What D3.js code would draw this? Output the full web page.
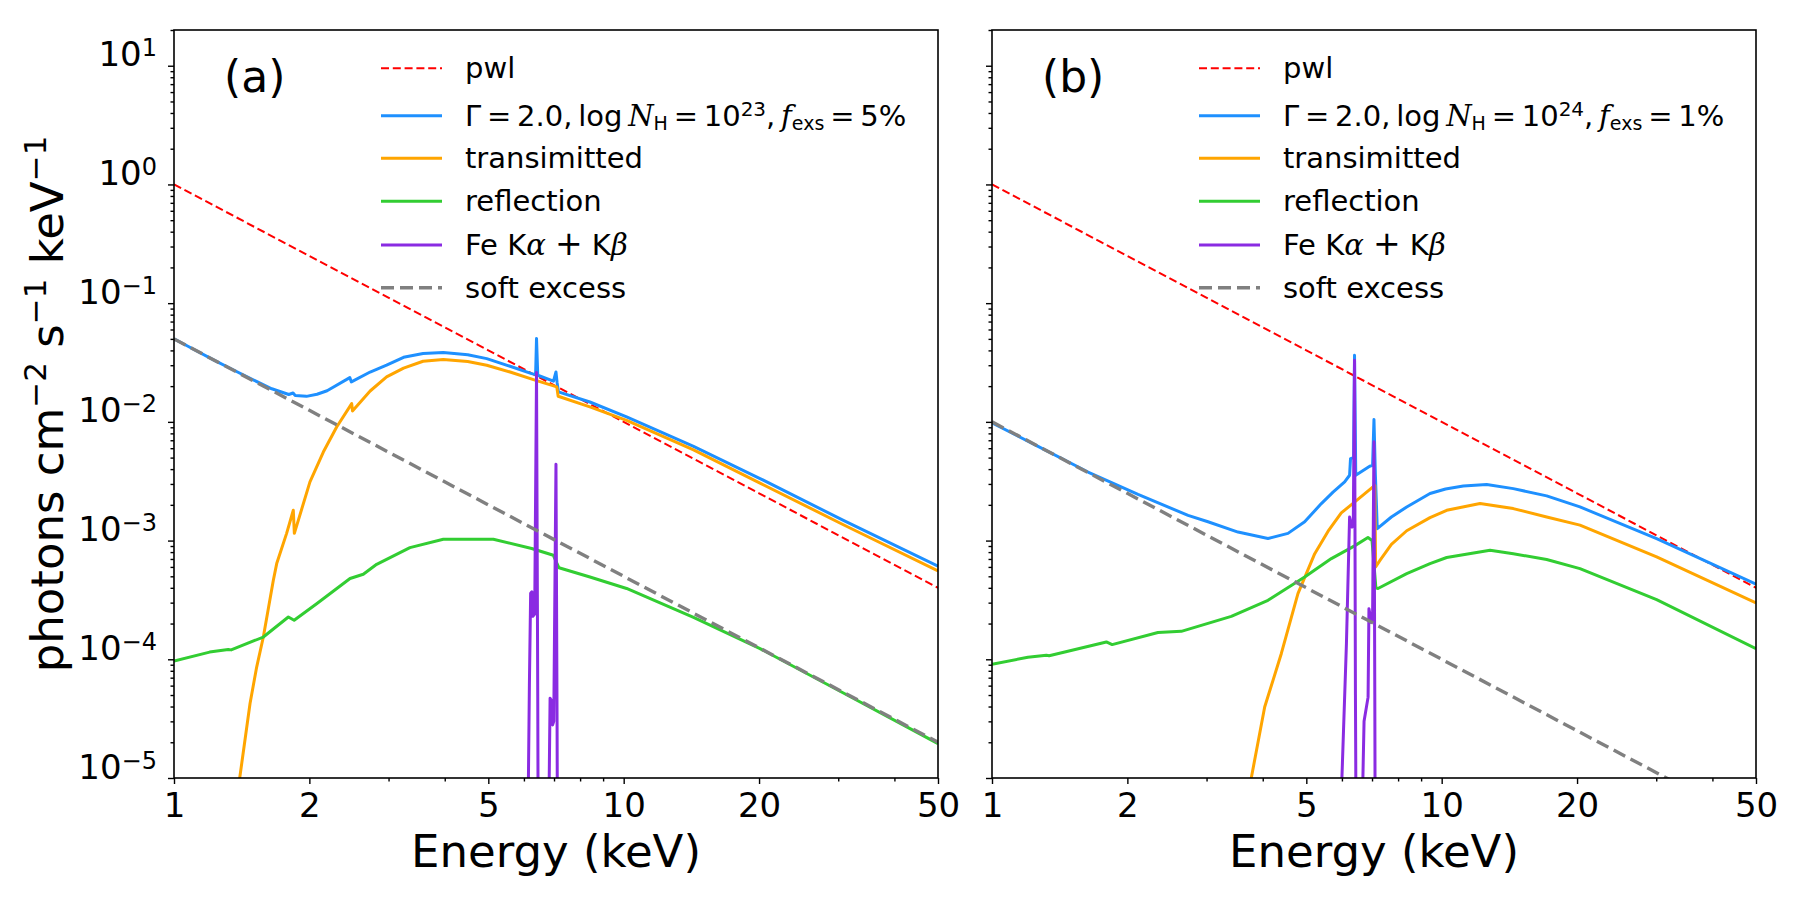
<!DOCTYPE html>
<html>
<head>
<meta charset="utf-8">
<script src="https://cdn.jsdelivr.net/npm/d3@7"></script>
<style>
  html, body { margin: 0; padding: 0; background: #fff; }
  svg { display: block; font-family: "DejaVu Sans", sans-serif; }
  text { white-space: pre; }
</style>
</head>
<body>
<svg id="chart" width="1800" height="900"></svg>
<script>
// ---- data (energy keV, photons cm^-2 s^-1 keV^-1) ----
const energyMajor = [1, 2, 5, 10, 20, 50];
const energyMinor = [3, 4, 6, 7, 8, 9, 30, 40];
const fluxMajor = [1e-5, 1e-4, 1e-3, 1e-2, 1e-1, 1, 10];
const fluxExpLabels = ['\u22125', '\u22124', '\u22123', '\u22122', '\u22121', '0', '1'];

// panel (a)
const pwlA = [[1, 1], [2, 0.25], [5, 0.04], [10, 0.01], [20, 0.0025], [50, 0.0004]];
const totalA = [
  [1.00, 0.0500], [1.10, 0.0413], [1.23, 0.0330], [1.36, 0.0272], [1.50, 0.0226], [1.65, 0.0190],
  [1.80, 0.0170], [1.84, 0.0175], [1.86, 0.0167], [1.97, 0.0164], [2.08, 0.0171], [2.19, 0.0183],
  [2.46, 0.0236], [2.48, 0.0217], [2.73, 0.0263], [2.97, 0.0300], [3.24, 0.0350], [3.58, 0.0376],
  [3.97, 0.0384], [4.50, 0.0368], [4.96, 0.0341], [5.59, 0.0294], [6.24, 0.0255], [6.37, 0.0250],
  [6.40, 0.0504], [6.44, 0.0247], [6.98, 0.0220], [7.07, 0.0263], [7.11, 0.0215], [7.16, 0.0179],
  [8.41, 0.0147], [10.15, 0.0110], [14.3, 0.00622], [20.1, 0.00333], [30.8, 0.00148], [50, 0.000610]
];
const transA = [
  [1.38, 0.0000065], [1.40, 0.0000100], [1.476, 0.0000424], [1.527, 0.000086], [1.58, 0.000154],
  [1.663, 0.000463], [1.692, 0.00064], [1.78, 0.00115], [1.842, 0.0018], [1.852, 0.00115],
  [2.006, 0.00312], [2.148, 0.00557], [2.30, 0.00906], [2.484, 0.01426], [2.494, 0.01236],
  [2.73, 0.0182], [2.97, 0.0239], [3.24, 0.0284], [3.58, 0.0324], [3.97, 0.0335], [4.50, 0.0322],
  [4.96, 0.0300], [5.59, 0.0263], [6.30, 0.0227], [7.10, 0.0197], [7.15, 0.01644], [8.41, 0.01337],
  [10.15, 0.0103], [14.3, 0.0058], [20.1, 0.00305], [30.8, 0.00136], [50, 0.000555]
];
const reflA = [
  [1.00, 0.0000968], [1.20, 0.000115], [1.32, 0.000121], [1.34, 0.000120], [1.58, 0.000154],
  [1.796, 0.000227], [1.85, 0.000213], [2.076, 0.000294], [2.463, 0.000479], [2.636, 0.00052],
  [2.823, 0.000631], [3.347, 0.000873], [3.971, 0.001026], [5.13, 0.001026], [6.243, 0.000858],
  [6.975, 0.000752], [7.18, 0.000590], [8.414, 0.000493], [10.15, 0.000395], [14.3, 0.000225],
  [20.1, 0.000123], [30.8, 0.000052], [50, 0.0000195]
];
const feA = [
  [6.12, 0.000001], [6.14, 0.00001], [6.17, 0.00006], [6.21, 0.00036], [6.25, 0.00037], [6.28, 0.00023],
  [6.34, 0.00024], [6.40, 0.026], [6.44, 0.00005], [6.46, 0.000001], [6.81, 0.000001], [6.83, 0.00001],
  [6.86, 0.000047], [6.91, 0.000045], [6.95, 0.000028], [6.99, 0.00003], [7.07, 0.0044], [7.11, 0.00003],
  [7.13, 0.000001]
];
const softA = [[1, 0.05], [2, 0.0125], [5, 0.002], [10, 0.0005], [20, 0.000125], [50, 0.00002]];

// panel (b)
const pwlB = [[1, 1], [2, 0.25], [5, 0.04], [10, 0.01], [20, 0.0025], [50, 0.0004]];
const totalB = [
  [1.00, 0.0098], [1.266, 0.00622], [1.635, 0.00378], [2.112, 0.00245], [2.729, 0.00163], [3.022, 0.00144],
  [3.524, 0.00118], [4.109, 0.00104], [4.552, 0.00115], [4.958, 0.00144], [5.40, 0.00205], [5.733, 0.00256],
  [6.085, 0.00312], [6.24, 0.00355], [6.27, 0.0049], [6.37, 0.0050], [6.40, 0.0364], [6.44, 0.00355],
  [6.917, 0.00423], [7.02, 0.0043], [7.07, 0.01045], [7.12, 0.00366], [7.19, 0.00126], [7.73, 0.00158],
  [8.36, 0.00192], [9.42, 0.00249], [10.2, 0.00272], [11.17, 0.00288], [12.59, 0.00297], [14.43, 0.00274],
  [17.12, 0.00238], [20.3, 0.00192], [30.06, 0.00104], [50, 0.00043]
];
const transB = [
  [3.70, 0.000005], [3.772, 0.00001], [4.04, 0.0000396], [4.40, 0.000112], [4.79, 0.000357], [5.22, 0.000776],
  [5.59, 0.0012], [5.98, 0.00171], [6.40, 0.00211], [7.10, 0.00292], [7.13, 0.00060], [7.29, 0.00068],
  [7.73, 0.00093], [8.36, 0.00121], [9.42, 0.00156], [10.26, 0.0018], [12.17, 0.00205], [14.43, 0.00186],
  [17.12, 0.00158], [20.3, 0.00135], [30.06, 0.000728], [50, 0.000298]
];
const reflB = [
  [1.00, 0.0000908], [1.202, 0.000104], [1.321, 0.000108], [1.34, 0.000107], [1.796, 0.00014], [1.85, 0.000133],
  [2.339, 0.000168], [2.636, 0.000172], [3.405, 0.00023], [4.109, 0.000314], [4.958, 0.000493], [5.684, 0.000705],
  [6.40, 0.000902], [6.856, 0.00106], [7.00, 0.0010], [7.14, 0.00040], [7.216, 0.000395], [8.36, 0.000527],
  [9.42, 0.00064], [10.26, 0.00072], [12.81, 0.000828], [14.43, 0.000776], [17.12, 0.000692], [20.3, 0.000581],
  [30.06, 0.000318], [50, 0.000123]
];
const feB = [
  [5.99, 0.000001], [6.00, 0.00001], [6.14, 0.000135], [6.24, 0.00158], [6.32, 0.0013], [6.36, 0.0014],
  [6.40, 0.033], [6.43, 0.00005], [6.46, 0.000001], [6.67, 0.000001], [6.68, 0.00001], [6.72, 0.00003],
  [6.86, 0.000048], [6.89, 0.000267], [6.975, 0.000205], [7.02, 0.00023], [7.07, 0.0068], [7.10, 0.00005],
  [7.12, 0.000001]
];
const softB = [[1, 0.01], [2, 0.0025], [5, 0.0004], [10, 0.0001], [20, 0.000025], [50, 0.000004]];

const panelTags = ['(a)', '(b)'];
const nhExp = ['23', '24'];
const fexs = ['5%', '1%'];

// ---- layout ----
const plotTop = 30, plotBottom = 778, plotW = 764;
const panelLefts = [174, 992];
const legendRows = [68.3, 115.7, 158.3, 201.3, 245, 287.7];
const thin = '\u2009';

const styles = [
  { color: '#ff0000', width: 2, dash: '8,3.8' },
  { color: '#1e90ff', width: 3 },
  { color: '#ffa500', width: 3 },
  { color: '#32cd32', width: 3 },
  { color: '#8a2be2', width: 3 },
  { color: '#808080', width: 3.4, dash: '13,6' }
];

const svg = d3.select('#chart');

// tspans with sub/superscripts
function addRich(textSel, parts) {
  let shift = 0;
  parts.forEach(p => {
    const target = p.sup ? -p.sup : (p.sub ? p.sub : 0);
    const ts = textSel.append('tspan').attr('dy', target - shift).text(p.t);
    shift = target;
    if (p.size) ts.attr('font-size', p.size);
    if (p.it) ts.attr('font-family', 'DejaVu Serif').attr('font-style', 'italic');
  });
}

function drawPanel(i, series) {
  const left = panelLefts[i];
  const x = d3.scaleLog().domain([1, 50]).range([left, left + plotW]);
  const y = d3.scaleLog().domain([1e-5, 20]).range([plotBottom, plotTop]);

  const clipId = 'clip' + i;
  svg.append('clipPath').attr('id', clipId)
    .append('rect').attr('x', left).attr('y', plotTop).attr('width', plotW).attr('height', plotBottom - plotTop);

  const line = d3.line().x(d => x(d[0])).y(d => y(d[1]));
  const g = svg.append('g').attr('clip-path', `url(#${clipId})`);
  series.forEach((s, k) => {
    g.append('path')
      .datum(s)
      .attr('fill', 'none')
      .attr('stroke', styles[k].color)
      .attr('stroke-width', styles[k].width)
      .attr('stroke-dasharray', styles[k].dash || null)
      .attr('stroke-linejoin', 'round')
      .attr('d', line);
  });

  // axes
  const yMinor = [];
  for (let e = -5; e <= 1; e++) {
    for (let m = 2; m <= 9; m++) {
      const v = m * Math.pow(10, e);
      if (v <= 20) yMinor.push(v);
    }
  }

  const xAxis = svg.append('g')
    .attr('transform', `translate(0, ${plotBottom})`)
    .call(d3.axisBottom(x).tickValues(energyMajor).tickFormat(d3.format('d'))
      .tickSize(6).tickSizeOuter(0).tickPadding(9));
  svg.append('g')
    .attr('transform', `translate(0, ${plotBottom})`)
    .call(d3.axisBottom(x).tickValues(energyMinor).tickFormat('').tickSize(3.5).tickSizeOuter(0));

  const yAxis = svg.append('g')
    .attr('transform', `translate(${left}, 0)`)
    .call(d3.axisLeft(y).tickValues(fluxMajor).tickFormat(() => '').tickSize(6).tickSizeOuter(0).tickPadding(11));
  svg.append('g')
    .attr('transform', `translate(${left}, 0)`)
    .call(d3.axisLeft(y).tickValues(yMinor).tickFormat('').tickSize(3.5).tickSizeOuter(0));

  svg.selectAll('.domain').remove();
  svg.selectAll('.tick line').attr('stroke', '#000').attr('stroke-width', 1.4);
  xAxis.selectAll('text').attr('font-size', 34).attr('fill', '#000')
    .attr('font-family', 'DejaVu Sans');

  if (i === 0) {
    yAxis.selectAll('.tick text').each(function (d, j) {
      const t = d3.select(this).attr('font-size', 34).attr('fill', '#000')
        .attr('font-family', 'DejaVu Sans').attr('dy', '0.36em');
      addRich(t, [{ t: '10' }, { t: fluxExpLabels[j], sup: 10, size: 24 }]);
    });
  }

  // frame
  svg.append('rect')
    .attr('x', left).attr('y', plotTop).attr('width', plotW).attr('height', plotBottom - plotTop)
    .attr('fill', 'none').attr('stroke', '#000').attr('stroke-width', 1.6);

  // panel tag
  svg.append('text')
    .attr('x', left + 50).attr('y', 92)
    .attr('font-size', 44)
    .text(panelTags[i]);

  // legend
  const legendParts = [
    [{ t: 'pwl' }],
    [{ t: '\u0393' + thin + '=' + thin + '2.0,' + thin + 'log' + thin }, { t: 'N', it: true },
      { t: 'H', sub: 4, size: 19 }, { t: thin + '=' + thin + '10' },
      { t: nhExp[i], sup: 10, size: 20 }, { t: ',' + thin }, { t: 'f', it: true }, { t: 'exs', sub: 4, size: 19 },
      { t: thin + '=' + thin + fexs[i] }],
    [{ t: 'transimitted' }],
    [{ t: 'reflection' }],
    [{ t: 'Fe K' }, { t: '\u03b1', it: true }, { t: ' ' }, { t: '+', size: 33 }, { t: ' K' }, { t: '\u03b2', it: true }],
    [{ t: 'soft excess' }]
  ];
  legendRows.forEach((ry, k) => {
    svg.append('line')
      .attr('x1', left + 207).attr('x2', left + 268)
      .attr('y1', ry).attr('y2', ry)
      .attr('stroke', styles[k].color)
      .attr('stroke-width', styles[k].width)
      .attr('stroke-dasharray', styles[k].dash || null);
    const t = svg.append('text')
      .attr('x', left + 291).attr('y', ry + 10)
      .attr('font-size', 29);
    addRich(t, legendParts[k]);
  });

  // x label
  svg.append('text')
    .attr('x', left + plotW / 2).attr('y', 867)
    .attr('text-anchor', 'middle')
    .attr('font-size', 45)
    .text('Energy (keV)');
}

drawPanel(0, [pwlA, totalA, transA, reflA, feA, softA]);
drawPanel(1, [pwlB, totalB, transB, reflB, feB, softB]);

// y label
const yl = svg.append('text')
  .attr('transform', 'translate(63, 404) rotate(-90)')
  .attr('text-anchor', 'middle')
  .attr('font-size', 45);
addRich(yl, [{ t: 'photons cm' }, { t: '\u22122', sup: 17, size: 31 }, { t: ' s' },
  { t: '\u22121', sup: 17, size: 31 }, { t: ' keV' }, { t: '\u22121', sup: 17, size: 31 }]);
</script>
</body>
</html>
